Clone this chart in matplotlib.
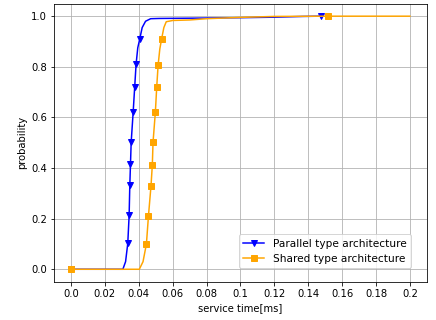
import matplotlib
matplotlib.use("Agg")
import matplotlib.pyplot as plt

# service time CDF points
parallel_x = [0.0, 0.0306, 0.0322, 0.0335, 0.0343, 0.0347, 0.0351, 0.0355, 0.0367, 0.0376,
              0.0384, 0.0394, 0.0406, 0.0420, 0.0440, 0.0470, 0.0520, 0.0700, 0.1000, 0.1200,
              0.1370, 0.1474]
parallel_y = [0.0, 0.0, 0.03, 0.102, 0.213, 0.332, 0.415, 0.501, 0.623, 0.722,
              0.81, 0.875, 0.911, 0.955, 0.980, 0.990, 0.991, 0.992, 0.994, 0.996,
              0.999, 1.0]
parallel_marks = [0, 3, 4, 5, 6, 7, 8, 9, 10, 12, 21]

shared_x = [0.0, 0.0403, 0.0425, 0.0445, 0.0457, 0.0472, 0.0480, 0.0484, 0.0498, 0.0506,
            0.0514, 0.0524, 0.0535, 0.0548, 0.0562, 0.0600, 0.0700, 0.0800, 0.0990, 0.1200,
            0.1514, 0.2000]
shared_y = [0.0, 0.0, 0.03, 0.100, 0.210, 0.329, 0.413, 0.501, 0.623, 0.722,
            0.806, 0.870, 0.911, 0.955, 0.978, 0.983, 0.985, 0.990, 0.995, 0.999,
            1.0, 1.0]
shared_marks = [0, 3, 4, 5, 6, 7, 8, 9, 10, 12, 20]

DPI = 72
fig = plt.figure(figsize=(436 / DPI, 320 / DPI), dpi=DPI)
ax = fig.add_axes([0.124, 0.119, 0.855, 0.870])

ax.plot(parallel_x, parallel_y, color="blue", marker="v",
        markevery=parallel_marks, label="Parallel type architecture")
ax.plot(shared_x, shared_y, color="orange", marker="s",
        markevery=shared_marks, label="Shared type architecture")

ax.set_xticks([0.0, 0.02, 0.04, 0.06, 0.08, 0.1, 0.12, 0.14, 0.16, 0.18, 0.2])
ax.set_xticklabels(["0.0", "0.02", "0.04", "0.06", "0.08", "0.1", "0.12", "0.14", "0.16", "0.18", "0.2"])
ax.set_xlabel("service time[ms]")
ax.set_ylabel("probability")
ax.grid(True)
ax.legend(loc="lower right", bbox_to_anchor=(0.957, 0.05), borderaxespad=0, fontsize=10.5)

fig.savefig("out.png", dpi=DPI)
